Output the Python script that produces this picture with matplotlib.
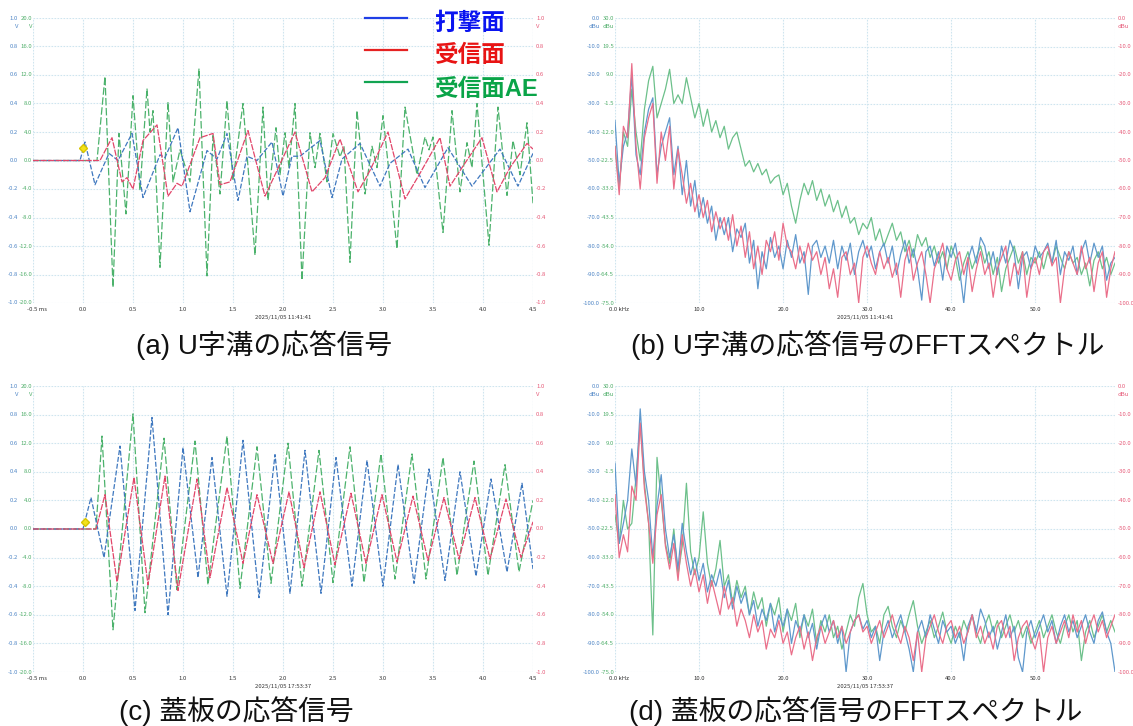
import numpy as np
import matplotlib.pyplot as plt
from matplotlib.lines import Line2D
from matplotlib.transforms import offset_copy

plt.rcParams['font.family'] = ['Noto Sans CJK JP', 'DejaVu Sans']

# ---------------- time-domain traces: (ms, V) ----------------
# U-trench
A_BLUE_T = [-0.5, -0.03, 0.02, 0.12, 0.26, 0.35, 0.49, 0.60, 0.77, 0.82, 0.95, 1.07, 1.24, 1.34, 1.44,
            1.55, 1.64, 1.74, 1.89, 2.00, 2.09, 2.17, 2.37, 2.49, 2.59, 2.77, 2.97, 3.07, 3.25, 3.42,
            3.65, 3.89, 4.17, 4.35, 4.50]
A_BLUE_V = [0.0, 0.0, 0.13, -0.17, 0.05, 0.0, 0.19, -0.26, 0.04, 0.02, 0.23, -0.36, 0.07, 0.01, 0.19,
            -0.28, 0.03, 0.0, 0.13, -0.25, 0.03, 0.03, 0.14, -0.26, 0.01, 0.12, -0.18, -0.02, 0.08, -0.19,
            0.09, -0.18, 0.08, -0.18, 0.05]
A_RED_T = [-0.5, 0.17, 0.29, 0.39, 0.44, 0.50, 0.60, 0.74, 0.85, 0.94, 0.99, 1.17, 1.30, 1.37, 1.47,
           1.65, 1.82, 2.12, 2.29, 2.42, 2.57, 2.75, 2.87, 3.05, 3.22, 3.37, 3.57, 3.67, 3.79, 3.99,
           4.14, 4.27, 4.44, 4.50]
A_RED_V = [0.0, 0.0, 0.16, -0.15, -0.12, -0.20, 0.14, 0.25, -0.25, -0.16, -0.18, 0.16, 0.19, -0.17, -0.15,
           0.21, -0.25, 0.20, -0.22, -0.12, 0.15, -0.22, -0.07, 0.20, -0.27, -0.09, 0.16, -0.18, -0.05, 0.16,
           -0.22, -0.05, 0.12, 0.08]
A_GREEN_T = [-0.5, 0.14, 0.22, 0.30, 0.36, 0.43, 0.50, 0.57, 0.64, 0.67, 0.70, 0.77, 0.85, 0.90, 0.97,
             1.07, 1.16, 1.24, 1.30, 1.37, 1.44, 1.50, 1.60, 1.72, 1.80, 1.85, 1.93, 1.97, 2.02, 2.06,
             2.12, 2.19, 2.27, 2.32, 2.37, 2.44, 2.50, 2.57, 2.61, 2.67, 2.74, 2.82, 2.89, 2.94, 3.00,
             3.14, 3.22, 3.34, 3.42, 3.46, 3.50, 3.60, 3.69, 3.77, 3.84, 3.89, 3.94, 4.06, 4.15, 4.24,
             4.30, 4.37, 4.44, 4.50]
A_GREEN_V = [0.0, 0.0, 11.8, -17.8, 3.8, -7.5, 9.1, -4.2, 10.1, 4.0, 7.0, -15.0, 8.2, -3.0, 1.5,
             -3.0, 12.9, -16.2, 3.5, -4.7, 8.4, -2.8, 8.0, -13.3, 7.5, -5.6, 4.6, -2.0, 3.9, -1.0,
             8.0, -16.8, 3.9, -1.0, 3.8, -3.0, 3.8, 0.5, 2.0, -14.3, 7.0, -4.7, 2.0, -1.0, 6.3,
             -12.4, 7.5, -2.0, 3.3, 1.5, 3.3, -10.1, 7.0, -4.4, 2.5, -1.0, 8.0, -11.9, 7.5, -4.9,
             2.8, -2.0, 5.3, -6.0]

# cover plate
C_BLUE_T = [-0.5, 0.0, 0.08, 0.21, 0.37, 0.52, 0.69, 0.85, 1.00, 1.15, 1.29, 1.44, 1.60, 1.76, 1.92,
            2.07, 2.22, 2.38, 2.53, 2.69, 2.84, 3.00, 3.15, 3.31, 3.46, 3.62, 3.77, 3.93, 4.08, 4.24,
            4.39, 4.50]
C_BLUE_V = [0.0, 0.0, 0.22, -0.20, 0.58, -0.57, 0.78, -0.60, 0.57, -0.34, 0.50, -0.47, 0.62, -0.48, 0.52,
            -0.45, 0.55, -0.45, 0.50, -0.40, 0.48, -0.40, 0.45, -0.38, 0.42, -0.36, 0.40, -0.33, 0.35, -0.30,
            0.32, -0.28]
C_RED_T = [-0.5, 0.13, 0.22, 0.34, 0.51, 0.65, 0.82, 0.95, 1.14, 1.27, 1.44, 1.60, 1.74, 1.90, 2.06,
           2.21, 2.37, 2.52, 2.68, 2.83, 2.99, 3.14, 3.30, 3.45, 3.61, 3.76, 3.92, 4.07, 4.23, 4.38, 4.50]
C_RED_V = [0.0, 0.0, 0.24, -0.37, 0.36, -0.39, 0.37, -0.43, 0.35, -0.34, 0.29, -0.24, 0.24, -0.24, 0.26,
           -0.27, 0.26, -0.25, 0.25, -0.24, 0.24, -0.23, 0.23, -0.22, 0.22, -0.21, 0.22, -0.21, 0.21, -0.20, 0.05]
C_GREEN_T = [-0.5, 0.13, 0.19, 0.30, 0.50, 0.62, 0.81, 0.94, 1.12, 1.25, 1.44, 1.57, 1.74, 1.88, 2.05,
             2.19, 2.36, 2.50, 2.67, 2.81, 2.98, 3.12, 3.29, 3.43, 3.60, 3.74, 3.91, 4.05, 4.22, 4.36, 4.50]
C_GREEN_V = [0.0, 0.0, 13.0, -14.1, 16.1, -11.7, 12.7, -8.5, 12.3, -7.8, 13.0, -8.3, 11.5, -7.6, 12.0,
             -8.0, 11.0, -7.5, 11.5, -7.5, 10.5, -7.0, 10.5, -7.0, 10.0, -6.5, 9.5, -6.5, 9.0, -6.0, 4.0]

# ---------------- spectra: kHz bins, dBu ----------------
F_KHZ = np.arange(0, 59.6, 0.5)
B_BLUE = [-36, -58, -45, -40, -20, -48, -55, -40, -32, -28, -55, -45, -40, -35, -55, -45, -62, -50, -66, -57,
          -70, -63, -72, -66, -78, -70, -76, -70, -82, -74, -77, -72, -86, -78, -95, -82, -88, -77, -84, -80,
          -88, -78, -84, -76, -86, -82, -97, -80, -78, -84, -80, -86, -78, -88, -80, -85, -79, -90, -82, -78,
          -84, -80, -88, -82, -79, -86, -80, -90, -83, -78, -86, -81, -88, -99, -82, -80, -87, -82, -92, -80,
          -84, -79, -88, -100, -85, -80, -86, -77, -80, -88, -82, -90, -80, -86, -78, -82, -95, -84, -82, -88,
          -80, -84, -82, -79, -86, -78, -90, -82, -85, -80, -90, -82, -78, -86, -79, -84, -80, -92, -86, -84]
B_RED = [-45, -62, -38, -42, -16, -45, -60, -42, -35, -30, -58, -40, -50, -38, -60, -46, -55, -65, -58, -68,
         -62, -70, -64, -75, -68, -74, -70, -78, -69, -80, -73, -84, -75, -88, -80, -90, -78, -82, -75, -85,
         -72, -80, -82, -88, -80, -86, -79, -85, -82, -90, -84, -95, -88, -98, -84, -82, -90, -86, -100, -84,
         -80, -86, -90, -82, -88, -84, -91, -86, -98, -85, -80, -92, -86, -82, -90, -100, -88, -84, -79, -88,
         -92, -85, -82, -90, -84, -96, -88, -82, -90, -86, -98, -88, -84, -80, -94, -86, -90, -82, -98, -88,
         -84, -90, -82, -80, -87, -84, -100, -88, -82, -86, -90, -80, -88, -84, -96, -86, -82, -98, -88, -82]
B_GREEN = [-17.3, -33.0, -12.0, -17.3, 3.8, -12.0, -22.5, -3.6, 6.9, 12.2, -6.8, -1.5, 3.8, 11.1, -1.5,
           1.7, -1.5, 8.0, 0.6, -6.8, -1.5, -9.9, -3.6, -12.0, -7.8, -14.1, -9.9, -18.3, -14.1, -12.0,
           -18.3, -24.6, -22.5, -26.7, -23.6, -27.8, -25.7, -30.9, -28.8, -27.8, -35.1, -30.9, -39.3, -45.6, -37.2,
           -30.9, -35.1, -29.9, -37.2, -33.0, -39.3, -35.1, -41.4, -37.2, -43.5, -39.3, -45.6, -43.5, -49.8, -45.6,
           -47.7, -43.5, -51.9, -47.7, -54.0, -49.8, -45.6, -51.9, -48.8, -56.1, -51.9, -58.2, -49.8, -54.0, -50.9,
           -58.2, -54.0, -60.3, -56.1, -62.4, -54.0, -58.2, -66.6, -60.3, -56.1, -62.4, -58.2, -54.0, -60.3, -56.1,
           -64.5, -58.2, -70.8, -62.4, -58.2, -54.0, -60.3, -56.1, -64.5, -58.2, -60.3, -56.1, -62.4, -56.1, -60.3,
           -54.0, -58.2, -62.4, -56.1, -60.3, -58.2, -64.5, -60.3, -68.7, -59.3, -56.1, -62.4, -58.2, -64.5, -60.3]

D_BLUE = [-27, -55, -48, -40, -22, -35, -8, -30, -40, -60, -42, -31, -50, -60, -52, -64, -48, -58, -66, -60,
          -68, -62, -72, -66, -70, -64, -74, -68, -78, -70, -76, -72, -80, -75, -84, -78, -82, -76, -86, -80,
          -84, -78, -90, -82, -86, -80, -88, -83, -92, -84, -80, -86, -82, -90, -84, -100, -86, -82, -80, -85,
          -82, -88, -84, -96, -86, -82, -88, -84, -80, -86, -92, -100, -86, -82, -88, -80, -85, -90, -82, -86,
          -84, -90, -86, -96, -84, -80, -86, -78, -82, -88, -84, -92, -86, -80, -88, -84, -95, -100, -86, -82,
          -88, -84, -80, -86, -82, -90, -84, -80, -86, -82, -88, -84, -80, -86, -90, -82, -79, -86, -90, -100]
D_RED = [-38, -60, -52, -58, -35, -40, -13, -36, -48, -62, -45, -38, -56, -64, -55, -68, -52, -62, -70, -64,
         -72, -66, -76, -68, -74, -80, -70, -78, -74, -84, -78, -82, -88, -80, -86, -82, -92, -85, -88, -82,
         -90, -86, -94, -88, -84, -92, -86, -96, -88, -84, -90, -86, -82, -88, -84, -90, -86, -82, -80, -86,
         -84, -90, -86, -82, -88, -84, -80, -86, -90, -84, -88, -96, -86, -100, -88, -84, -80, -86, -90, -84,
         -82, -88, -84, -90, -86, -80, -88, -84, -90, -86, -92, -84, -82, -88, -84, -96, -88, -84, -82, -88,
         -92, -86, -100, -88, -84, -90, -86, -82, -88, -80, -86, -82, -90, -84, -80, -86, -82, -88, -84, -80]
D_GREEN = [-17.3, -27.8, -12.0, -22.5, -20.4, -3.6, 16.4, -5.7, -20.4, -61.4, 3.8, -12.0, -27.8, -35.1, -22.5,
           -39.3, -28.8, -5.7, -30.9, -39.3, -33.0, -16.2, -35.1, -43.5, -37.2, -26.7, -43.5, -39.3, -49.8, -41.4,
           -47.7, -43.5, -54.0, -45.6, -51.9, -47.7, -58.2, -49.8, -54.0, -47.7, -60.3, -51.9, -56.1, -49.8, -62.4,
           -54.0, -58.2, -51.9, -64.5, -56.1, -60.3, -54.0, -62.4, -58.2, -66.6, -60.3, -54.0, -58.2, -47.7, -42.5,
           -54.0, -60.3, -58.2, -64.5, -54.0, -50.9, -58.2, -62.4, -56.1, -60.3, -54.0, -48.8, -58.2, -64.5, -60.3,
           -56.1, -62.4, -58.2, -53.0, -60.3, -64.5, -58.2, -62.4, -56.1, -60.3, -54.0, -60.3, -64.5, -58.2, -54.0,
           -60.3, -56.1, -62.4, -58.2, -54.0, -60.3, -56.1, -62.4, -58.2, -64.5, -60.3, -56.1, -62.4, -58.2, -54.0,
           -60.3, -64.5, -58.2, -54.0, -60.3, -56.1, -70.8, -60.3, -56.1, -62.4, -58.2, -54.0, -60.3, -56.1, -60.3]

# ---------------- axis scales ----------------
TIME_TICKS = [-0.5, 0.0, 0.5, 1.0, 1.5, 2.0, 2.5, 3.0, 3.5, 4.0, 4.5]
VOLT_TICKS = [1.0, 0.8, 0.6, 0.4, 0.2, 0.0, -0.2, -0.4, -0.6, -0.8, -1.0]
AE_TICKS = [20.0, 16.0, 12.0, 8.0, 4.0, 0.0, -4.0, -8.0, -12.0, -16.0, -20.0]
FREQ_TICKS = [0.0, 10.0, 20.0, 30.0, 40.0, 50.0]
DB_TICKS = [0.0, -10.0, -20.0, -30.0, -40.0, -50.0, -60.0, -70.0, -80.0, -90.0, -100.0]
AE_DB_TICKS = [30.0, 19.5, 9.0, -1.5, -12.0, -22.5, -33.0, -43.5, -54.0, -64.5, -75.0]

C_BLUE_TR = '#3f78bf'
C_RED_TR = '#e2466a'
C_GREEN_TR = '#4cb26c'
C_GRID = '#cfe5ef'
LBL_BLUE = '#4f86c6'
LBL_GREEN = '#4fae6a'
LBL_RED = '#e65a78'

W, H = 1133, 726
fig = plt.figure(figsize=(W / 100, H / 100), dpi=100)


def px_rect(x0, y0, x1, y1):
    return [x0 / W, 1 - y1 / H, (x1 - x0) / W, (y1 - y0) / H]


def scope_axes(rect, xlim, xticks, yl, yticks, gl, gticks, rticks, unit, xunit, stamp, xfmt):
    axg = fig.add_axes(rect)          # green channel (back)
    ax = fig.add_axes(rect, sharex=axg)  # blue / red channels (front)
    ax.patch.set_visible(False)
    for a in (ax, axg):
        for s in a.spines.values():
            s.set_visible(False)
        a.tick_params(length=0, labelbottom=False, labelleft=False)
    axg.set_xlim(*xlim)
    axg.set_ylim(*gl)
    ax.set_ylim(*yl)
    axg.set_xticks(xticks + [xlim[1]])
    axg.set_yticks(gticks)
    ax.set_yticks([])
    axg.grid(True, color=C_GRID, ls=(0, (1.5, 1.2)), lw=0.8)

    tr = ax.get_yaxis_transform()
    for i, (v, g, r) in enumerate(zip(yticks, gticks, rticks)):
        ax.text(0, v, xfmt(v), transform=offset_copy(tr, fig, x=-15, y=0, units='dots'),
                ha='right', va='center', fontsize=4.3, color=LBL_BLUE)
        ax.text(0, v, xfmt(g), transform=offset_copy(tr, fig, x=-1, y=0, units='dots'),
                ha='right', va='center', fontsize=4.3, color=LBL_GREEN)
        ax.text(1, v, xfmt(r), transform=offset_copy(tr, fig, x=3, y=0, units='dots'),
                ha='left', va='center', fontsize=4.3, color=LBL_RED)
    top = yticks[0]
    ax.text(0, top, unit, transform=offset_copy(tr, fig, x=-15, y=-8, units='dots'),
            ha='right', va='center', fontsize=4.3, color=LBL_BLUE)
    ax.text(0, top, unit, transform=offset_copy(tr, fig, x=-1, y=-8, units='dots'),
            ha='right', va='center', fontsize=4.3, color=LBL_GREEN)
    ax.text(1, top, unit, transform=offset_copy(tr, fig, x=3, y=-8, units='dots'),
            ha='left', va='center', fontsize=4.3, color=LBL_RED)

    xtr = ax.get_xaxis_transform()
    for i, t in enumerate(xticks):
        lab = f'{t:.1f}' + (f' {xunit}' if i == 0 else '')
        ax.text(t, 0, lab, transform=offset_copy(xtr, fig, x=4 if i == 0 else 0, y=-4, units='dots'),
                ha='center', va='top', fontsize=4.3, color='#333333')
    ax.text(0.5, 0, stamp, transform=offset_copy(ax.transAxes, fig, x=0, y=-12, units='dots'),
            ha='center', va='top', fontsize=4.3, color='#333333')
    return ax, axg


def fmt1(v):
    return f'{v:.1f}'


TOP_Y0, TOP_Y1 = 18, 303
BOT_Y0, BOT_Y1 = 386, 672

# (a) U-trench time signal
ax_a, axg_a = scope_axes(px_rect(33, TOP_Y0, 533, TOP_Y1), (-0.5, 4.5), TIME_TICKS, (-1, 1), VOLT_TICKS,
                         (-20, 20), AE_TICKS, VOLT_TICKS, 'V', 'ms', '2025/11/05 11:41:41', fmt1)
axg_a.plot(A_GREEN_T, A_GREEN_V, color=C_GREEN_TR, lw=0.9, ls=(0, (6, 2)))
ax_a.plot(A_BLUE_T, A_BLUE_V, color=C_BLUE_TR, lw=0.9, ls=(0, (4, 1.5)))
ax_a.plot(A_RED_T, A_RED_V, color=C_RED_TR, lw=0.9, ls=(0, (5, 1)))
ax_a.plot([0.0], [0.09], marker='D', ms=4, color='#f2e21a', mec='#d8c400', ls='none')

# (b) U-trench spectrum
ax_b, axg_b = scope_axes(px_rect(615, TOP_Y0, 1115, TOP_Y1), (0, 59.5), FREQ_TICKS, (-100, 0), DB_TICKS,
                         (-75, 30), AE_DB_TICKS, DB_TICKS, 'dBu', 'kHz', '2025/11/05 11:41:41', fmt1)
axg_b.plot(F_KHZ, B_GREEN, color='#6cc08a', lw=0.9)
ax_b.plot(F_KHZ, B_BLUE, color='#5f98cc', lw=0.9)
ax_b.plot(F_KHZ, B_RED, color='#ea6f8a', lw=0.9)

# (c) cover-plate time signal
ax_c, axg_c = scope_axes(px_rect(33, BOT_Y0, 533, BOT_Y1), (-0.5, 4.5), TIME_TICKS, (-1, 1), VOLT_TICKS,
                         (-20, 20), AE_TICKS, VOLT_TICKS, 'V', 'ms', '2025/11/05 17:53:37', fmt1)
axg_c.plot(C_GREEN_T, C_GREEN_V, color=C_GREEN_TR, lw=0.9, ls=(0, (6, 2)))
ax_c.plot(C_BLUE_T, C_BLUE_V, color=C_BLUE_TR, lw=0.9, ls=(0, (4, 1.5)))
ax_c.plot(C_RED_T, C_RED_V, color=C_RED_TR, lw=0.9, ls=(0, (5, 1)))
ax_c.plot([0.02], [0.05], marker='D', ms=4, color='#f2e21a', mec='#d8c400', ls='none')

# (d) cover-plate spectrum
ax_d, axg_d = scope_axes(px_rect(615, BOT_Y0, 1115, BOT_Y1), (0, 59.5), FREQ_TICKS, (-100, 0), DB_TICKS,
                         (-75, 30), AE_DB_TICKS, DB_TICKS, 'dBu', 'kHz', '2025/11/05 17:53:37', fmt1)
axg_d.plot(F_KHZ, D_GREEN, color='#6cc08a', lw=0.9)
ax_d.plot(F_KHZ, D_BLUE, color='#5f98cc', lw=0.9)
ax_d.plot(F_KHZ, D_RED, color='#ea6f8a', lw=0.9)

# legend drawn by hand at the top middle
LEGEND_NAMES = ['打撃面', '受信面', '受信面AE']
LEGEND_LINE = ['#1f3fe6', '#e52222', '#12a452']
LEGEND_TEXT = ['#0a14f0', '#e81414', '#0aa448']
for i, (name, lc, tc) in enumerate(zip(LEGEND_NAMES, LEGEND_LINE, LEGEND_TEXT)):
    yy = 1 - (18 + 32 * i) / H
    fig.add_artist(Line2D([365 / W, 407 / W], [yy, yy], transform=fig.transFigure, color=lc, lw=1.6))
    fig.text(434 / W, 1 - (23 + 33 * i) / H, name, color=tc, fontsize=17, fontweight='bold',
             family=['Liberation Sans', 'Noto Sans CJK JP'], ha='left', va='center')

# captions
CAPTIONS = ['(a) U字溝の応答信号', '(b) U字溝の応答信号のFFTスペクトル',
            '(c) 蓋板の応答信号', '(d) 蓋板の応答信号のFFTスペクトル']
CAP_POS = [(264, 345), (868, 345), (236, 711), (856, 711)]
for txt, (cx, cy) in zip(CAPTIONS, CAP_POS):
    fig.text(cx / W, 1 - cy / H, txt, ha='center', va='center', fontsize=20, color='#111111',
             family=['Liberation Sans', 'Noto Sans CJK JP'])

fig.savefig('out.png', dpi=100)
